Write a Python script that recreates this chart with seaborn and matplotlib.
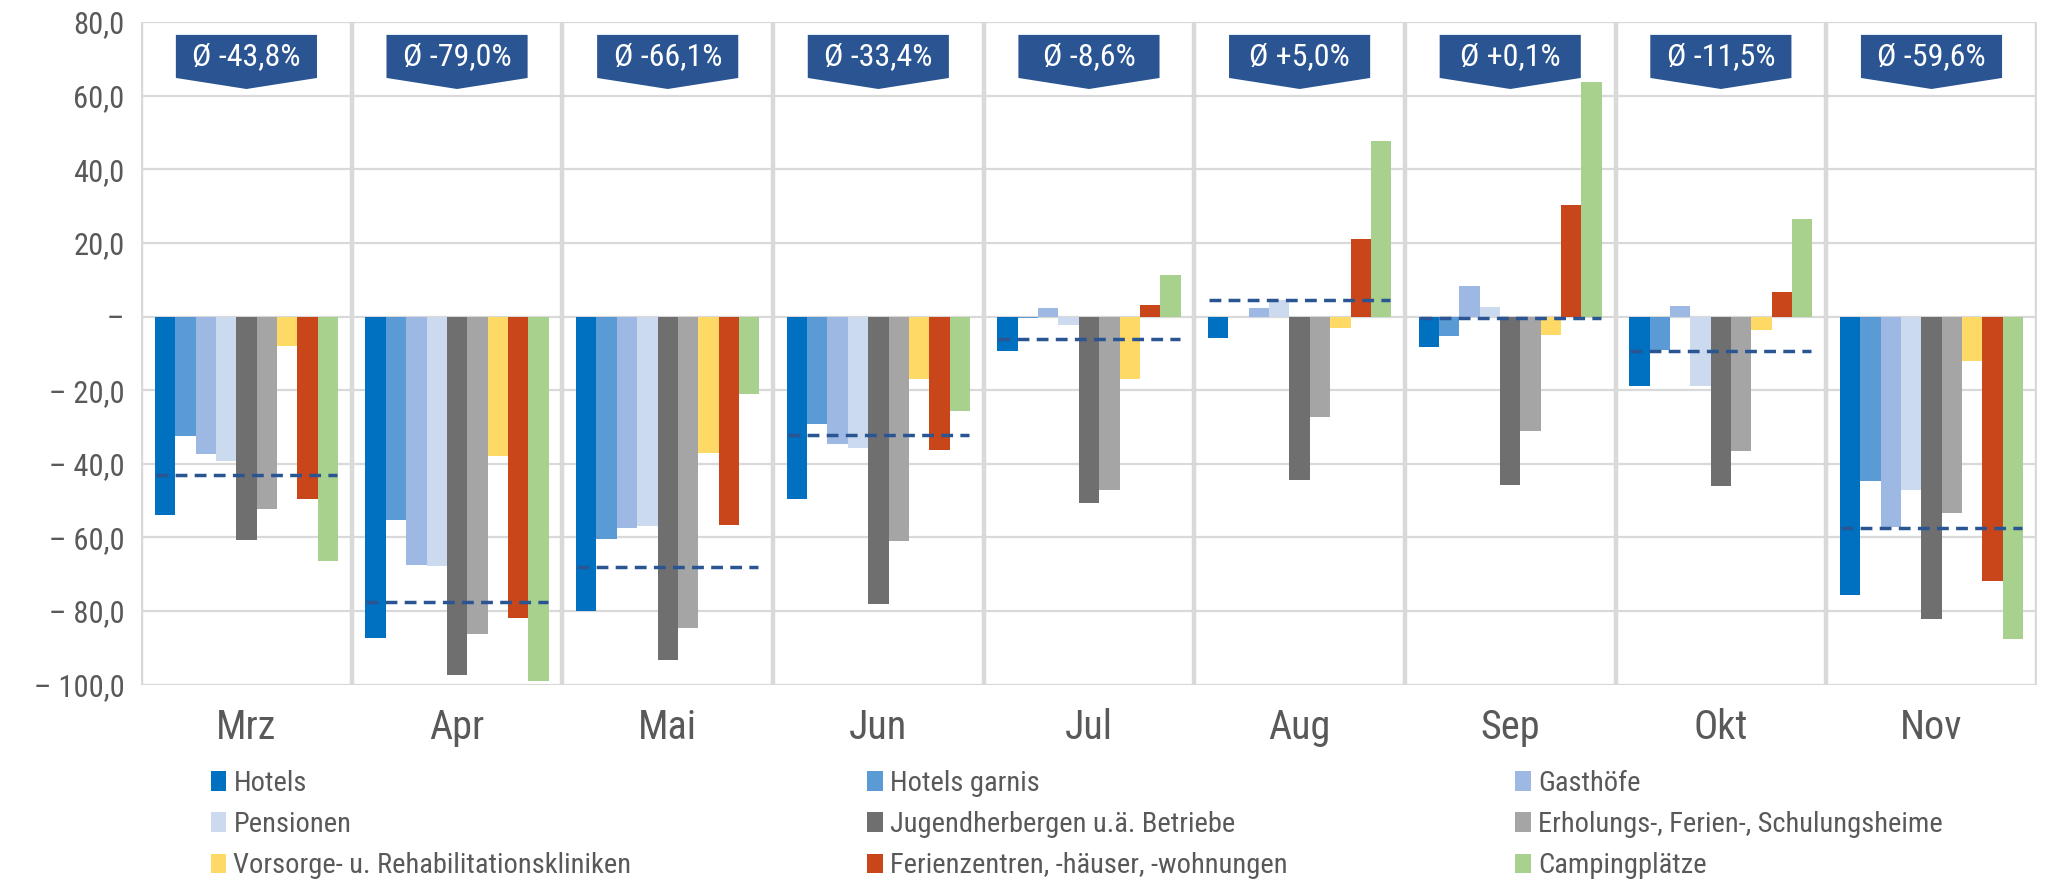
import numpy as np
import pandas as pd
import matplotlib
matplotlib.use('Agg')
import matplotlib.pyplot as plt
import seaborn as sns
from matplotlib import font_manager
from matplotlib.patches import Polygon
from matplotlib.ticker import FuncFormatter

# months on the x axis
months = ['Mrz', 'Apr', 'Mai', 'Jun', 'Jul', 'Aug', 'Sep', 'Okt', 'Nov']

# accommodation types (legend order)
categories = ['Hotels', 'Hotels garnis', 'Gasthöfe', 'Pensionen',
              'Jugendherbergen u.ä. Betriebe', 'Erholungs-, Ferien-, Schulungsheime',
              'Vorsorge- u. Rehabilitationskliniken', 'Ferienzentren, -häuser, -wohnungen',
              'Campingplätze']
colors = ['#0070C0', '#5B9BD5', '#9DB9E3', '#CCDAF0', '#6F6F6F', '#A5A5A5',
          '#FFD966', '#C9461A', '#A9D18E']

# change vs. previous year in %
hotels = [-53.8, -87.3, -80.0, -49.7, -9.5, -5.9, -8.3, -18.9, -75.6]
hotels_garnis = [-32.5, -55.3, -60.5, -29.1, -0.5, 0.0, -5.3, -9.2, -44.8]
gasthoefe = [-37.4, -67.5, -57.5, -34.7, 2.4, 2.4, 8.2, 2.8, -57.1]
pensionen = [-39.3, -67.8, -56.8, -35.6, -2.4, 4.6, 2.7, -18.9, -47.1]
jugendherbergen = [-60.7, -97.3, -93.2, -78.0, -50.6, -44.3, -45.8, -46.1, -82.3]
erholungsheime = [-52.4, -86.2, -84.6, -60.9, -47.1, -27.4, -31.1, -36.4, -53.3]
vorsorge = [-7.9, -37.9, -37.0, -17.0, -17.0, -3.0, -4.9, -3.8, -12.0]
ferienzentren = [-49.7, -81.8, -56.7, -36.3, 3.2, 21.1, 30.2, 6.6, -71.8]
camping = [-66.4, -99.1, -21.0, -25.7, 11.3, 47.8, 63.8, 26.4, -87.6]

# dashed average line per month and the banner labels
avg_line = [-43.1, -77.5, -68.0, -32.3, -6.0, 4.5, -0.4, -9.3, -57.4]
avg_labels = ['Ø -43,8%', 'Ø -79,0%', 'Ø -66,1%', 'Ø -33,4%', 'Ø -8,6%',
              'Ø +5,0%', 'Ø +0,1%', 'Ø -11,5%', 'Ø -59,6%']

series = [hotels, hotels_garnis, gasthoefe, pensionen, jugendherbergen,
          erholungsheime, vorsorge, ferienzentren, camping]

# long format for seaborn
rows = []
for cat, vals in zip(categories, series):
    for m, v in zip(months, vals):
        rows.append({'month': m, 'category': cat, 'value': v})
df = pd.DataFrame(rows)

sns.set_theme(style='white')

# the original uses a narrow font; take one if the machine has it
installed = {f.name for f in font_manager.fontManager.ttflist}
narrow_names = ['Liberation Sans Narrow', 'Arial Narrow', 'Roboto Condensed',
                'Noto Sans Condensed', 'Open Sans Condensed', 'Noto Sans Display Condensed']
narrow = next((n for n in narrow_names if n in installed), None)
if narrow:
    plt.rcParams['font.family'] = [narrow, 'DejaVu Sans']
    ytick_fs, xtick_fs, leg_fs, ban_fs = 22, 29, 20.5, 23
    ban_family = [narrow, 'DejaVu Sans']
else:
    plt.rcParams['font.family'] = ['Liberation Sans', 'DejaVu Sans']
    ytick_fs, xtick_fs, leg_fs, ban_fs = 18.5, 25, 18, 20
    ban_family = ['Lato', 'DejaVu Sans']

grey_txt = '#595959'
grid_col = '#D9D9D9'
navy = '#2A5592'

fig, ax = plt.subplots(figsize=(20.45, 8.8), dpi=100)
fig.subplots_adjust(left=0.069, right=0.996, top=0.975, bottom=0.222)

sns.barplot(data=df, x='month', y='value', hue='category', order=months,
            hue_order=categories, palette=colors, width=0.87, saturation=1,
            errorbar=None, linewidth=0, ax=ax, zorder=3)

ax.set_ylim(-100, 80)
ax.set_xlim(-0.5, len(months) - 0.5)
ax.set_yticks(np.arange(-100, 81, 20))


def fmt(v, pos):
    if abs(v) < 1e-9:
        return '–'
    s = f'{abs(v):.1f}'.replace('.', ',')
    return s if v > 0 else '– ' + s


ax.yaxis.set_major_formatter(FuncFormatter(fmt))
ax.yaxis.grid(True, color=grid_col, lw=1.6)
ax.set_axisbelow(True)
for sp in ax.spines.values():
    sp.set_visible(False)

# month separators
for x in np.arange(-0.5, len(months), 1.0):
    ax.axvline(x, color=grid_col, lw=3.2, zorder=1)

ax.tick_params(axis='x', length=0, pad=17, labelsize=xtick_fs, labelcolor=grey_txt)
ax.tick_params(axis='y', length=0, pad=12, labelsize=ytick_fs, labelcolor=grey_txt)
ax.set_xlabel('')
ax.set_ylabel('')

# dashed average lines and banners
for i, (v, lab) in enumerate(zip(avg_line, avg_labels)):
    ax.hlines(v, i - 0.43, i + 0.43, colors=navy, linestyles=(0, (3.4, 2.1)),
              lw=2.5, zorder=4)
    w = 0.335
    top, rb, tip = 76.5, 64.8, 61.8
    ax.add_patch(Polygon([(i - w, top), (i + w, top), (i + w, rb), (i, tip), (i - w, rb)],
                         closed=True, facecolor=navy, edgecolor='none', zorder=5))
    ax.text(i, 70.6, lab, ha='center', va='center', color='white', fontsize=ban_fs,
            family=ban_family, zorder=6)

# legend: three columns, filled row by row
handles, labels = ax.get_legend_handles_labels()
ax.legend_.remove()
col_x = [0.103, 0.424, 0.741]
for c in range(3):
    idx = [c, c + 3, c + 6]
    fig.legend([handles[k] for k in idx], [labels[k] for k in idx],
               loc='upper left', bbox_to_anchor=(col_x[c], 0.125), frameon=False,
               fontsize=leg_fs, handlelength=0.55, handleheight=0.7, handletextpad=0.25,
               labelspacing=0.5, borderpad=0, borderaxespad=0, labelcolor=grey_txt)

fig.savefig('out.png', dpi=100)
